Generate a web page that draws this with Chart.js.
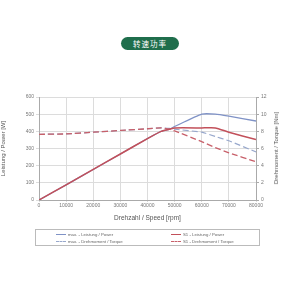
<!DOCTYPE html>
<html lang="zh">
<head>
    <meta charset="UTF-8">
    <title>转速功率</title>
    <script src="https://cdn.jsdelivr.net/npm/chart.js"></script>
    <style>
        body { margin: 0; background: #fff; font-family: "Liberation Sans", Arial, sans-serif; }
        #wrap { position: relative; width: 300px; height: 300px; overflow: hidden; }
        #title {
            position: absolute; left: 121px; top: 37px; width: 58px; height: 13px;
            background: #1f6e4c; color: #fff; border-radius: 7px;
            font: 7.5px "Noto Sans CJK SC", sans-serif; line-height: 13px; text-align: center; letter-spacing: 1px;
        }
        #chartBox { position: absolute; left: 0; top: 0; width: 300px; height: 300px; }
        #rightTitle {
            position: absolute; left: 276px; top: 148px; transform: translate(-50%, -50%) rotate(-90deg);
            font-size: 6px; color: #555; white-space: nowrap;
        }
        #legend {
            position: absolute; left: 35px; top: 229px; width: 225px; height: 17px;
            border: 1px solid #bbb; box-sizing: border-box; font-size: 4.3px; color: #666;
        }
        .item { position: absolute; display: flex; align-items: center; white-space: nowrap; }
        .sw { width: 10px; height: 0; margin-right: 2px; }
    </style>
</head>
<body>
<div id="wrap">
    <div id="title">转速功率</div>
    <div id="chartBox"><canvas id="speedChart" width="300" height="300"></canvas></div>
    <div id="rightTitle">Drehmoment / Torque [Nm]</div>
    <div id="legend"></div>
</div>
<script>
    // values
    const speed = [0, 10000, 20000, 30000, 40000, 45000, 48000, 50000, 60000, 65000, 70000, 80000];
    const maxPower = [0, 88, 178, 268, 358, 400, 412, 428, 500, 500, 488, 460];
    const s1Power = [0, 88, 178, 268, 358, 400, 412, 420, 420, 420, 395, 352];
    const maxTorque = [7.65, 7.7, 7.9, 8.1, 8.3, 8.4, 8.35, 8.25, 7.9, 7.4, 6.9, 5.6];
    const s1Torque = [7.65, 7.7, 7.9, 8.1, 8.3, 8.4, 8.25, 8.05, 6.8, 6.1, 5.5, 4.45];
    const powerTicks = [0, 100, 200, 300, 400, 500, 600];
    const torqueTicks = [0, 2, 4, 6, 8, 10, 12];

    const seriesNames = ['max. - Leistung / Power', 'S1 - Leistung / Power', 'max. - Drehmoment / Torque', 'S1 - Drehmoment / Torque'];
    const blue = '#7f92c6';
    const red = '#c2505a';
    const blueDash = '#98a8cc';
    const redDash = '#c8606a';

    const pts = vals => speed.map((s, i) => ({ x: s, y: vals[i] }));

    // red series drawn on top of blue where they overlap
    const datasets = [
        { label: seriesNames[0], data: pts(maxPower), yAxisID: 'y', borderColor: blue, borderWidth: 1.3, order: 2 },
        { label: seriesNames[1], data: pts(s1Power), yAxisID: 'y', borderColor: red, borderWidth: 1.5, order: 0 },
        { label: seriesNames[2], data: pts(maxTorque), yAxisID: 'y2', borderColor: blueDash, borderWidth: 1.2, borderDash: [6, 3], order: 3 },
        { label: seriesNames[3], data: pts(s1Torque), yAxisID: 'y2', borderColor: redDash, borderWidth: 1.3, borderDash: [6, 3], order: 1 }
    ];
    datasets.forEach(d => { d.pointRadius = 0; d.tension = 0.15; d.fill = false; });

    const tickFont = { family: 'Liberation Sans', size: 5 };
    const gridCol = '#dcdcdc';

    new Chart(document.getElementById('speedChart'), {
        type: 'line',
        data: { datasets: datasets },
        options: {
            responsive: false,
            animation: false,
            layout: { padding: { top: 97, left: 0, right: 0, bottom: 78 } },
            plugins: { legend: { display: false }, tooltip: { enabled: false } },
            scales: {
                x: {
                    type: 'linear', min: 0, max: 80000,
                    ticks: { stepSize: 10000, font: tickFont, color: '#777', padding: 1, maxRotation: 0, callback: v => String(v) },
                    grid: { color: gridCol, tickLength: 2 },
                    border: { color: '#aaa' },
                    title: { display: true, text: 'Drehzahl / Speed [rpm]', font: { family: 'Liberation Sans', size: 6.5 }, color: '#555', padding: { top: 2, bottom: 0 } },
                    afterFit: s => { s.height = 22; }
                },
                y: {
                    position: 'left', min: 0, max: 600,
                    afterBuildTicks: s => { s.ticks = powerTicks.map(v => ({ value: v })); },
                    ticks: { font: tickFont, color: '#777', padding: 2 },
                    grid: { color: gridCol, tickLength: 3 },
                    border: { color: '#aaa' },
                    title: { display: true, text: 'Leistung / Power [W]', font: { family: 'Liberation Sans', size: 6 }, color: '#555', padding: 0 },
                    afterFit: s => { s.width = 39; }
                },
                y2: {
                    position: 'right', min: 0, max: 12,
                    afterBuildTicks: s => { s.ticks = torqueTicks.map(v => ({ value: v })); },
                    ticks: { font: tickFont, color: '#777', padding: 2 },
                    grid: { drawOnChartArea: false, tickLength: 3, color: '#aaa' },
                    border: { color: '#aaa' },
                    afterFit: s => { s.width = 44; }
                }
            }
        }
    });

    // html legend in a bordered box, two columns
    const legend = document.getElementById('legend');
    const spots = [[20, 2], [135, 2], [20, 9], [135, 9]];
    datasets.forEach((d, i) => {
        const it = document.createElement('div');
        it.className = 'item';
        it.style.left = spots[i][0] + 'px';
        it.style.top = spots[i][1] + 'px';
        const sw = document.createElement('span');
        sw.className = 'sw';
        sw.style.borderTop = (d.borderDash ? '1px dashed ' : '1px solid ') + d.borderColor;
        it.appendChild(sw);
        it.appendChild(document.createTextNode(d.label));
        legend.appendChild(it);
    });
</script>
</body>
</html>
